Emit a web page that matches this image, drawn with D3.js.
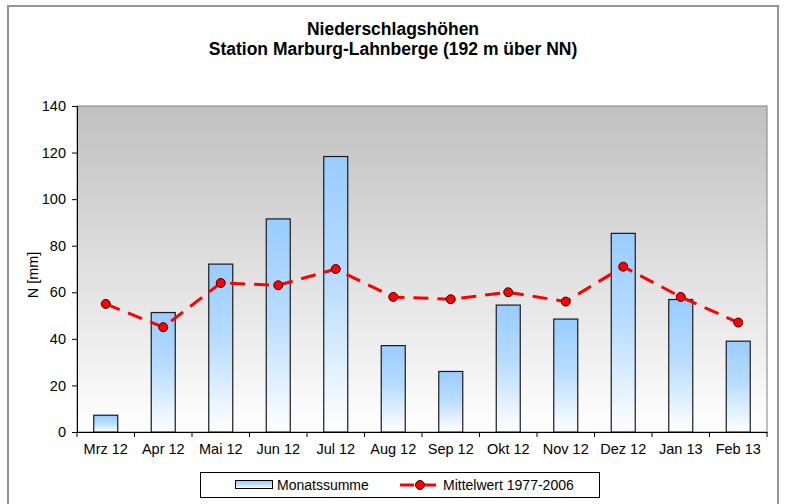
<!DOCTYPE html>
<html>
<head>
<meta charset="utf-8">
<script src="https://cdn.jsdelivr.net/npm/d3@7"></script>
<style>
  body { margin: 0; background: #fff; }
  svg { font-family: "Liberation Sans", Arial, sans-serif; }
</style>
</head>
<body>
<svg width="787" height="504"></svg>
<script>
// data
var months = ['Mrz 12', 'Apr 12', 'Mai 12', 'Jun 12', 'Jul 12', 'Aug 12',
              'Sep 12', 'Okt 12', 'Nov 12', 'Dez 12', 'Jan 13', 'Feb 13'];
var monatssumme = [7.2, 51.3, 72.1, 91.5, 118.3, 37.1, 26.0, 54.5, 48.5, 85.3, 56.9, 39.0];
var mittelwert = [55, 45, 64, 63, 70, 58, 57, 60, 56, 71, 58, 47];
var yTicks = [0, 20, 40, 60, 80, 100, 120, 140];

var svg = d3.select('svg');
// plot box (note: "top" is taken by window.top, so use plotTop)
var plotLeft = 77, plotRight = 767, plotTop = 106, plotBottom = 432;

// outer frame
svg.append('rect')
    .attr('x', 8).attr('y', 6)
    .attr('width', 770).attr('height', 500)
    .attr('fill', '#fff')
    .attr('stroke', '#959595')
    .attr('stroke-width', 2);

var defs = svg.append('defs');
var bg = defs.append('linearGradient').attr('id', 'bg')
    .attr('x1', 0).attr('y1', 0).attr('x2', 0).attr('y2', 1);
bg.append('stop').attr('offset', '0%').attr('stop-color', '#c0c0c0');
bg.append('stop').attr('offset', '100%').attr('stop-color', '#ffffff');

var barGrad = defs.append('linearGradient').attr('id', 'barGrad')
    .attr('x1', 0).attr('y1', 0).attr('x2', 0).attr('y2', 1);
barGrad.append('stop').attr('offset', '0%').attr('stop-color', '#99ccff');
barGrad.append('stop').attr('offset', '45%').attr('stop-color', '#b8dcff');
barGrad.append('stop').attr('offset', '100%').attr('stop-color', '#ffffff');

// title
var title = svg.append('text')
    .attr('text-anchor', 'middle')
    .attr('font-size', 17.5)
    .attr('font-weight', 'bold')
    .attr('fill', '#000');
title.append('tspan').attr('x', 393).attr('y', 35).text('Niederschlagshöhen');
title.append('tspan').attr('x', 393).attr('y', 55).text('Station Marburg-Lahnberge (192 m über NN)');

// plot area
svg.append('rect')
    .attr('x', plotLeft).attr('y', plotTop)
    .attr('width', plotRight - plotLeft).attr('height', plotBottom - plotTop)
    .attr('fill', 'url(#bg)')
    .attr('stroke', '#808080');

var x = d3.scaleBand()
    .domain(months)
    .range([plotLeft, plotRight]);

var y = d3.scaleLinear()
    .domain([0, 140])
    .range([plotBottom, plotTop]);

// bars
svg.selectAll('rect.bar')
    .data(monatssumme)
    .enter()
    .append('rect')
    .attr('class', 'bar')
    .attr('x', function(d, i) { return x(months[i]) + x.bandwidth() / 2 - 12; })
    .attr('y', function(d) { return y(d); })
    .attr('width', 24)
    .attr('height', function(d) { return plotBottom - y(d); })
    .attr('fill', 'url(#barGrad)')
    .attr('stroke', '#1a1a1a')
    .attr('stroke-width', 1.2);

// axes
var yAxis = d3.axisLeft(y).tickValues(yTicks).tickSize(5).tickPadding(6);
svg.append('g')
    .attr('transform', 'translate(' + plotLeft + ',0)')
    .call(yAxis)
    .call(function(g) {
        g.selectAll('text').attr('font-size', 14.5).attr('fill', '#000')
            .attr('font-family', '"Liberation Sans", Arial, sans-serif');
        g.selectAll('line, path').attr('stroke', '#000');
    });

var xAxis = d3.axisBottom(x).tickSize(0).tickPadding(12);
svg.append('g')
    .attr('transform', 'translate(0,' + plotBottom + ')')
    .call(xAxis)
    .call(function(g) {
        g.select('.domain').attr('stroke', '#000');
        g.selectAll('text').attr('font-size', 14.5).attr('fill', '#000')
            .attr('font-family', '"Liberation Sans", Arial, sans-serif');
    });

// ticks sit on the category boundaries
svg.selectAll('line.xtick')
    .data(months.concat(['end']))
    .enter()
    .append('line')
    .attr('class', 'xtick')
    .attr('x1', function(d, i) { return plotLeft + i * x.step(); })
    .attr('x2', function(d, i) { return plotLeft + i * x.step(); })
    .attr('y1', plotBottom)
    .attr('y2', plotBottom + 5)
    .attr('stroke', '#000');

// y label
svg.append('text')
    .attr('transform', 'translate(38,275) rotate(-90)')
    .attr('text-anchor', 'middle')
    .attr('font-size', 14.5)
    .text('N [mm]');

// mean line
var line = d3.line()
    .x(function(d, i) { return x(months[i]) + x.bandwidth() / 2; })
    .y(function(d) { return y(d); });

svg.append('path')
    .datum(mittelwert)
    .attr('d', line)
    .attr('fill', 'none')
    .attr('stroke', '#ff0000')
    .attr('stroke-width', 3)
    .attr('stroke-dasharray', '15,9');

svg.selectAll('circle.pt')
    .data(mittelwert)
    .enter()
    .append('circle')
    .attr('class', 'pt')
    .attr('cx', function(d, i) { return x(months[i]) + x.bandwidth() / 2; })
    .attr('cy', function(d) { return y(d); })
    .attr('r', 4.5)
    .attr('fill', '#ff0000')
    .attr('stroke', '#400000')
    .attr('stroke-width', 1);

// legend
var lg = svg.append('g');
lg.append('rect')
    .attr('x', 200.5).attr('y', 472.5)
    .attr('width', 399).attr('height', 25)
    .attr('fill', '#fff')
    .attr('stroke', '#000');
lg.append('rect')
    .attr('x', 235.5).attr('y', 480.5)
    .attr('width', 37).attr('height', 8)
    .attr('fill', 'url(#barGrad)')
    .attr('stroke', '#000');
lg.append('text')
    .attr('x', 277).attr('y', 490)
    .attr('font-size', 14)
    .text('Monatssumme');
lg.append('line')
    .attr('x1', 400).attr('x2', 441)
    .attr('y1', 485).attr('y2', 485)
    .attr('stroke', '#ff0000')
    .attr('stroke-width', 3)
    .attr('stroke-dasharray', '14,8');
lg.append('circle')
    .attr('cx', 420).attr('cy', 485).attr('r', 4.5)
    .attr('fill', '#ff0000')
    .attr('stroke', '#400000');
lg.append('text')
    .attr('x', 443).attr('y', 490)
    .attr('font-size', 14)
    .text('Mittelwert 1977-2006');
</script>
</body>
</html>
